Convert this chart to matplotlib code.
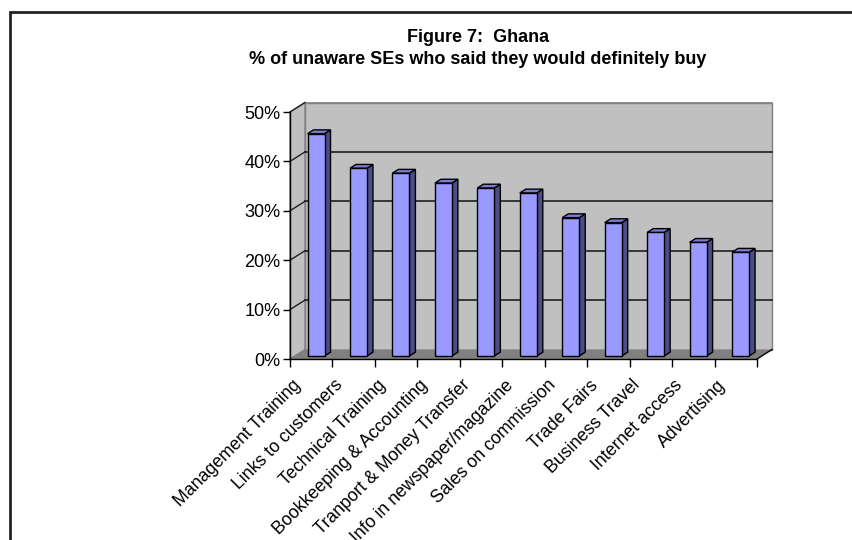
import matplotlib
matplotlib.use("Agg")
import matplotlib.pyplot as plt
from matplotlib.patches import Polygon, Rectangle
from matplotlib.transforms import ScaledTranslation
import numpy as np

categories = ["Management Training", "Links to customers", "Technical Training",
              "Bookkeeping & Accounting", "Tranport & Money Transfer",
              "Info in newspaper/magazine", "Sales on commission", "Trade Fairs",
              "Business Travel", "Internet access", "Advertising"]
values = [45, 38, 37, 35, 34, 33, 28, 27, 25, 23, 21]
yticks = [0, 10, 20, 30, 40, 50]
ytick_labels = ["0%", "10%", "20%", "30%", "40%", "50%"]
title_line1 = "Figure 7:  Ghana"
title_line2 = "% of unaware SEs who said they would definitely buy"

W, H = 853, 540
fig = plt.figure(figsize=(W / 100, H / 100), dpi=100)
plt.rcParams['font.family'] = ['Liberation Sans', 'DejaVu Sans']

# axes = front plane
x0, x1, ytop, ybot = 290, 757, 112, 359
ax = fig.add_axes([x0 / W, 1 - ybot / H, (x1 - x0) / W, (ybot - ytop) / H])
n = len(categories)
ymax = 50
ax.set_xlim(0, n)
ax.set_ylim(0, ymax)
for s in ax.spines.values():
    s.set_visible(False)
ax.patch.set_visible(False)

# depth offsets in data units
DX = 15 / ((x1 - x0) / n)
DY = 9.5 / ((ybot - ytop) / ymax)

wall = "#C0C0C0"
floor = "#808080"
edge = "#808080"
# back wall
ax.add_patch(Rectangle((DX, DY), n, ymax, facecolor=wall, edgecolor=edge, lw=1, clip_on=False, zorder=0))
# left wall
ax.add_patch(Polygon([(0, 0), (0, ymax), (DX, ymax + DY), (DX, DY)], closed=True,
                     facecolor=wall, edgecolor=edge, lw=1, clip_on=False, zorder=0))
# floor
ax.add_patch(Polygon([(0, 0), (n, 0), (n + DX, DY), (DX, DY)], closed=True,
                     facecolor=floor, edgecolor="none", lw=1, clip_on=False, zorder=0.5))
ax.plot([n, n + DX], [0, DY], color="black", lw=1, clip_on=False, zorder=1)

# gridlines
for v in yticks[1:]:
    ax.plot([DX, n + DX], [v + DY, v + DY], color="#202020" if v < ymax else edge, lw=1.2, clip_on=False, zorder=1)
    ax.plot([0, DX], [v, v + DY], color="#202020", lw=1, clip_on=False, zorder=1)

# front axis lines
ax.plot([0, 0], [0, ymax], color="black", lw=1, clip_on=False, zorder=2)
ax.plot([0, n], [0, 0], color="black", lw=1, clip_on=False, zorder=2)

# bars
t0, t1 = 0.32, 0.72
bw = 0.40
front = "#9999FF"
side = "#4D4D85"
topc = "#7B7BD0"
pos = np.arange(n) + 0.5 + t0 * DX
ax.bar(pos, values, width=bw, bottom=t0 * DY, color=front, edgecolor="black", lw=1, zorder=5, clip_on=False)
ddx = (t1 - t0) * DX
ddy = (t1 - t0) * DY
for p, v in zip(pos, values):
    xl, xr = p - bw / 2, p + bw / 2
    b = t0 * DY
    ax.add_patch(Polygon([(xr, b), (xr, v + b), (xr + ddx, v + b + ddy), (xr + ddx, b + ddy)],
                         closed=True, facecolor=side, edgecolor="black", lw=1, zorder=4, clip_on=False))
    ax.add_patch(Polygon([(xl, v + b), (xr, v + b), (xr + ddx, v + b + ddy), (xl + ddx, v + b + ddy)],
                         closed=True, facecolor=topc, edgecolor="black", lw=1, zorder=4, clip_on=False))

# ticks
ax.set_yticks(yticks)
ax.set_yticklabels(ytick_labels, fontsize=13)
ax.tick_params(axis='y', direction='out', length=5, width=1, color='black', pad=2)
ax.set_xticks(np.arange(n) + 0.5)
ax.set_xticklabels(categories, rotation=45, ha='right', va='center', rotation_mode='anchor', fontsize=12.8)
ax.tick_params(axis='x', which='major', length=0, pad=17)
for lab in ax.get_xticklabels():
    lab.set_transform(lab.get_transform() + ScaledTranslation(-0.13, 0, fig.dpi_scale_trans))
ax.set_xticks(np.arange(n + 1), minor=True)
ax.tick_params(axis='x', which='minor', direction='out', length=6, width=1, color='black')

fig.text(478 / W, 1 - 37 / H, title_line1, ha='center', va='center', fontsize=13, fontweight='bold')
fig.text(478 / W, 1 - 60 / H, title_line2, ha='center', va='center', fontsize=13, fontweight='bold')

# outer frame (only left and top visible)
fig.patches.append(Rectangle((10 / W, -0.2), 1.2, 1 - 12 / H + 0.2, transform=fig.transFigure,
                             facecolor='none', edgecolor='#222222', lw=2, figure=fig))

fig.savefig("out.png", dpi=100)
